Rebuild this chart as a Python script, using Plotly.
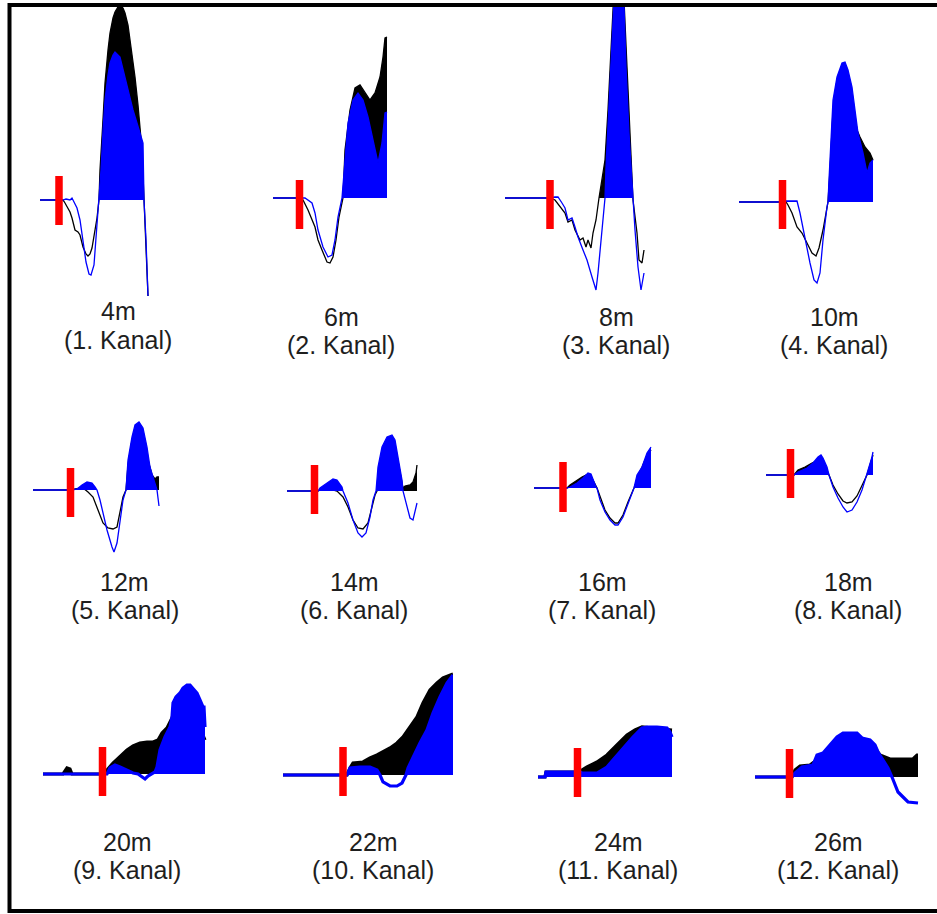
import plotly.graph_objects as go

FIG_W, FIG_H = 937, 914

DIST_LABELS = ["4m", "6m", "8m", "10m", "12m", "14m", "16m", "18m", "20m", "22m", "24m", "26m"]
CHANNEL_LABELS = ["(1. Kanal)", "(2. Kanal)", "(3. Kanal)", "(4. Kanal)", "(5. Kanal)", "(6. Kanal)",
                  "(7. Kanal)", "(8. Kanal)", "(9. Kanal)", "(10. Kanal)", "(11. Kanal)", "(12. Kanal)"]

# ---- traces: t = sample position, a = amplitude (black = measured, blue = model) ----
CH1_BLACK_T = [0, 23, 25, 27, 30, 32, 35, 38, 40, 43, 46, 48, 50, 52, 55, 57, 59, 60, 63, 65, 68, 70, 73, 75, 78, 80,
               83, 85, 88, 90, 93, 95, 98, 100, 102, 103, 104, 106, 108]
CH1_BLACK_A = [0, 0, -3, -7, -12, -18, -30, -32, -35, -47, -54, -56, -54, -48, -32, -18, 0, 30, 80, 117, 150, 167, 182,
               188, 193, 195, 192, 187, 175, 160, 140, 123, 95, 75, 50, 25, 0, -40, -96]
CH1_BLUE_T = [0, 23, 26, 30, 32, 34, 37, 40, 43, 46, 49, 51, 54, 56, 58, 59, 61, 63, 65, 68, 70, 73, 75, 80, 87, 93,
              100, 103, 104, 106, 108]
CH1_BLUE_A = [0, 0, 1, 0, 2, -2, -8, -20, -40, -62, -74, -75, -65, -40, -15, 0, 30, 70, 100, 125, 137, 145, 148, 143,
              113, 90, 67, 57, 0, -40, -96]

CH2_BLACK_T = [0, 27, 30, 35, 42, 45, 49, 54, 57, 60, 63, 66, 70, 72, 77, 82, 87, 92, 97, 102, 107, 110, 112, 114]
CH2_BLACK_A = [0, 0, -2, -12, -29, -42, -52, -64, -65, -59, -42, -19, 0, 48, 88, 110, 113, 105, 98, 105, 121, 141, 160, 161]
CH2_BLUE_T = [0, 27, 32, 39, 42, 45, 50, 55, 59, 62, 65, 69, 72, 75, 80, 85, 90, 95, 100, 105, 109, 112, 114]
CH2_BLUE_A = [0, 0, 0, -5, -15, -32, -49, -59, -57, -42, -19, 0, 41, 75, 98, 105, 98, 81, 58, 35, 55, 85, 86]

CH3_BLACK_T = [0, 45, 50, 55, 60, 63, 67, 70, 75, 78, 81, 83, 86, 88, 91, 94, 97, 100, 103, 106, 109, 114, 119, 122,
               125, 128, 132, 134, 137, 139]
CH3_BLACK_A = [0, 0, -2, -9, -15, -24, -22, -32, -42, -40, -49, -42, -50, -35, -22, 0, 18, 38, 88, 158, 208, 218, 198,
               131, 58, -2, -35, -62, -65, -52]
CH3_BLUE_T = [0, 45, 50, 53, 57, 60, 63, 67, 70, 73, 78, 82, 87, 91, 93, 97, 100, 101, 104, 107, 109, 112, 116, 119,
              121, 124, 128, 130, 133, 136, 139]
CH3_BLUE_A = [0, 0, 1, 1, -5, -10, -22, -20, -29, -39, -52, -62, -79, -92, -75, -35, 0, 31, 98, 165, 198, 218, 218,
              193, 131, 65, 0, -32, -69, -92, -75]

CH4_BLACK_T = [0, 47, 49, 53, 58, 63, 68, 73, 77, 80, 84, 88, 89, 91, 94, 98, 103, 107, 111, 115, 118, 121, 126, 131, 134]
CH4_BLACK_A = [0, 0, -3, -11, -25, -31, -41, -51, -54, -46, -28, -5, 0, 32, 92, 122, 136, 136, 117, 92, 72, 65, 55, 49, 42]
CH4_BLUE_T = [0, 43, 47, 58, 61, 66, 71, 75, 78, 81, 84, 88, 89, 90, 92, 94, 98, 103, 106, 109, 113, 116, 119, 124,
              128, 131, 134]
CH4_BLUE_A = [0, 0, 1, 1, -11, -38, -61, -78, -81, -71, -38, -5, 0, 22, 62, 102, 125, 139, 140, 132, 115, 92, 69, 49,
              29, 39, 42]

CH5_BLACK_T = [0, 39, 42, 50, 55, 60, 65, 70, 75, 80, 84, 87, 90, 93, 95, 99, 103, 107, 111, 115, 119, 122, 124, 126]
CH5_BLACK_A = [0, 0, 1, 2, -2, -7, -20, -33, -38, -39, -37, -23, -7, 0, 25, 50, 62, 64, 50, 30, 15, 11, 13, 13]
CH5_BLUE_T = [0, 39, 44, 49, 54, 59, 62, 64, 67, 70, 74, 79, 81, 84, 87, 90, 93, 95, 99, 102, 106, 110, 114, 117, 120,
              122, 124, 125, 126]
CH5_BLUE_A = [0, 0, 1, 5, 8, 7, 3, 0, -10, -23, -40, -57, -62, -53, -30, -10, 0, 30, 53, 65, 68, 62, 43, 23, 13, 6,
              0, -8, -16]

CH6_BLACK_T = [0, 31, 33, 43, 50, 56, 61, 66, 71, 76, 81, 85, 88, 90, 93, 98, 103, 108, 113, 116, 118, 123, 126, 129, 130]
CH6_BLACK_A = [0, 0, 1, 2, 0, -6, -16, -29, -37, -38, -32, -16, -4, 0, 26, 46, 51, 46, 21, 3, 5, 6, 9, 18, 26]
CH6_BLUE_T = [0, 31, 33, 40, 46, 50, 55, 56, 61, 66, 71, 75, 79, 83, 86, 89, 91, 95, 100, 105, 108, 111, 115, 116, 120,
              123, 126, 128, 130]
CH6_BLUE_A = [0, 0, 3, 8, 12, 11, 4, 0, -12, -29, -42, -46, -42, -26, -9, 0, 24, 44, 54, 56, 51, 34, 11, 0, -16, -27,
              -29, -21, -12]

CH7_BLACK_T = [0, 33, 36, 43, 48, 54, 59, 63, 71, 76, 81, 84, 89, 94, 100, 106, 111, 117]
CH7_BLACK_A = [0, 0, 3, 8, 11, 14, 8, 0, -22, -30, -35, -35, -27, -14, 0, 16, 28, 38]
CH7_BLUE_T = [0, 33, 36, 43, 49, 54, 57, 59, 62, 63, 66, 71, 76, 81, 84, 89, 94, 99, 100, 103, 108, 113, 116, 117]
CH7_BLUE_A = [0, 0, 1, 5, 10, 15, 14, 8, 1, 0, -12, -24, -32, -37, -37, -29, -15, -2, 0, 13, 21, 35, 40, 41]

CH8_BLACK_T = [0, 28, 32, 39, 46, 51, 55, 59, 63, 67, 72, 77, 81, 86, 91, 96, 100, 101, 104, 107]
CH8_BLACK_A = [0, 0, 5, 8, 12, 14, 13, 9, 0, -10, -19, -26, -28, -27, -21, -11, -2, 0, 10, 20]
CH8_BLUE_T = [0, 28, 32, 41, 47, 52, 55, 57, 61, 63, 67, 72, 77, 81, 86, 91, 96, 100, 101, 103, 106, 107]
CH8_BLUE_A = [0, 0, 3, 7, 12, 18, 20, 17, 8, 0, -12, -23, -32, -37, -35, -27, -15, -3, 0, 8, 18, 23]

CH9_BLACK_T = [0, 20, 22, 24, 27, 29, 59, 64, 70, 77, 84, 90, 97, 104, 110, 115, 119, 124, 129, 133, 137, 142, 162]
CH9_BLACK_A = [0, 0, 3, 6, 5, 0, 0, 4, 11, 17, 24, 28, 31, 32, 32, 34, 41, 46, 56, 69, 77, 82, 34]
CH9_BLUE_T = [0, 64, 67, 72, 77, 84, 90, 95, 99, 102, 105, 108, 112, 114, 117, 122, 127, 129, 130, 133, 137, 140, 144,
              147, 151, 154, 157, 160, 161, 162]
CH9_BLUE_A = [0, 0, 6, 9, 7, 4, 1, 0, -3, -5, -2, 0, 2, 7, 24, 37, 47, 57, 71, 77, 81, 86, 89, 89, 85, 81, 74, 67,
              67, 47]

CH10_BLACK_T = [0, 64, 67, 70, 80, 87, 94, 100, 107, 114, 120, 127, 134, 140, 147, 154, 160, 170]
CH10_BLACK_A = [0, 0, 7, 12, 13, 17, 20, 23, 27, 32, 38, 48, 58, 72, 85, 92, 97, 101]
CH10_BLUE_T = [0, 64, 67, 77, 87, 94, 97, 100, 107, 114, 119, 122, 123, 125, 130, 137, 144, 150, 157, 164, 170]
CH10_BLUE_A = [0, 0, 7, 8, 8, 5, 0, -7, -11, -11, -8, -2, 0, 7, 18, 32, 45, 62, 78, 92, 100]

CH11_BLACK_T = [0, 7, 8, 42, 44, 49, 59, 69, 79, 89, 97, 104, 134]
CH11_BLACK_A = [0, 0, 5, 5, 7, 10, 15, 22, 32, 42, 47, 50, 47]
CH11_BLUE_T = [0, 7, 8, 42, 44, 59, 64, 69, 75, 85, 95, 104, 109, 119, 129, 132, 134]
CH11_BLUE_A = [0, 0, 5, 5, 4, 4, 7, 10, 17, 29, 40, 49, 50, 50, 49, 45, 40]

CH12_BLACK_T = [0, 37, 40, 45, 55, 75, 90, 105, 120, 125, 135, 145, 158, 162, 163]
CH12_BLACK_A = [0, 0, 7, 11, 12, 27, 37, 37, 29, 22, 18, 18, 18, 22, 22]
CH12_BLUE_T = [0, 37, 40, 47, 58, 62, 68, 75, 82, 88, 102, 107, 115, 120, 123, 128, 133, 137, 140, 143, 148, 153, 163]
CH12_BLUE_A = [0, 0, 4, 10, 12, 22, 24, 32, 40, 44, 44, 39, 37, 32, 25, 17, 9, 0, -8, -15, -20, -25, -26]

# onset picks (red bars): time and vertical extent
ONSET_T = [19, 26.5, 45, 43.5, 37.5, 27.5, 29, 24.5, 59.5, 60, 39.5, 34.5]
ONSET_HI = [24, 18, 18, 22, 22, 26, 26, 26, 27, 28, 29, 28]
ONSET_LO = [-25, -31, -31, -27, -27, -23, -24, -23, -22, -21, -20, -21]

BLACK_T = [CH1_BLACK_T, CH2_BLACK_T, CH3_BLACK_T, CH4_BLACK_T, CH5_BLACK_T, CH6_BLACK_T,
           CH7_BLACK_T, CH8_BLACK_T, CH9_BLACK_T, CH10_BLACK_T, CH11_BLACK_T, CH12_BLACK_T]
BLACK_A = [CH1_BLACK_A, CH2_BLACK_A, CH3_BLACK_A, CH4_BLACK_A, CH5_BLACK_A, CH6_BLACK_A,
           CH7_BLACK_A, CH8_BLACK_A, CH9_BLACK_A, CH10_BLACK_A, CH11_BLACK_A, CH12_BLACK_A]
BLUE_T = [CH1_BLUE_T, CH2_BLUE_T, CH3_BLUE_T, CH4_BLUE_T, CH5_BLUE_T, CH6_BLUE_T,
          CH7_BLUE_T, CH8_BLUE_T, CH9_BLUE_T, CH10_BLUE_T, CH11_BLUE_T, CH12_BLUE_T]
BLUE_A = [CH1_BLUE_A, CH2_BLUE_A, CH3_BLUE_A, CH4_BLUE_A, CH5_BLUE_A, CH6_BLUE_A,
          CH7_BLUE_A, CH8_BLUE_A, CH9_BLUE_A, CH10_BLUE_A, CH11_BLUE_A, CH12_BLUE_A]

# ---- layout geometry (pixels) ----
PANEL_X0 = [40, 273, 505, 739, 33, 287, 534, 766, 43, 283, 538, 755]
PANEL_BASE = [200, 198, 198, 202, 490, 491, 488, 475, 774, 775, 777, 777]
ROW_TOP = [5, 385, 640]
ROW_BOT = [305, 565, 830]
PANEL_W = 170
LABEL_X = [118, 341, 616, 834, 125, 354, 602, 848, 127, 373, 618, 838]
LABEL_Y1 = [311, 317, 317, 317, 582, 582, 582, 582, 842, 842, 842, 842]
LABEL_Y2 = [340, 345, 345, 345, 610, 610, 610, 610, 870, 870, 870, 870]

BLUE = "#0000FF"
BLACK = "#000000"
RED = "#FF0000"


def positive_part(t, a):
    xs, ys = [], []
    for i in range(len(t)):
        if i > 0:
            a0, a1 = a[i - 1], a[i]
            if (a0 < 0 < a1) or (a0 > 0 > a1):
                tc = t[i - 1] + (t[i] - t[i - 1]) * (-a0) / (a1 - a0)
                xs.append(tc)
                ys.append(0)
        xs.append(t[i])
        ys.append(max(a[i], 0))
    return xs, ys


fig = go.Figure()
layout_axes = {}
for k in range(12):
    row = k // 4
    n = k + 1
    xa = "x" if n == 1 else f"x{n}"
    ya = "y" if n == 1 else f"y{n}"
    lw = 3.2 if row == 2 else 1.3
    # black (measured)
    px, py = positive_part(BLACK_T[k], BLACK_A[k])
    fig.add_trace(go.Scatter(x=px, y=py, mode="lines", fill="tozeroy", fillcolor=BLACK,
                             line=dict(width=0, color=BLACK), xaxis=xa, yaxis=ya, hoverinfo="skip"))
    fig.add_trace(go.Scatter(x=BLACK_T[k], y=BLACK_A[k], mode="lines",
                             line=dict(width=lw, color=BLACK), xaxis=xa, yaxis=ya, hoverinfo="skip"))
    # blue (model)
    px, py = positive_part(BLUE_T[k], BLUE_A[k])
    fig.add_trace(go.Scatter(x=px, y=py, mode="lines", fill="tozeroy", fillcolor=BLUE,
                             line=dict(width=0, color=BLUE), xaxis=xa, yaxis=ya, hoverinfo="skip"))
    fig.add_trace(go.Scatter(x=BLUE_T[k], y=BLUE_A[k], mode="lines",
                             line=dict(width=lw, color=BLUE), xaxis=xa, yaxis=ya, hoverinfo="skip"))
    # onset pick
    fig.add_trace(go.Scatter(x=[ONSET_T[k], ONSET_T[k]], y=[ONSET_LO[k], ONSET_HI[k]], mode="lines",
                             line=dict(width=7.5, color=RED), xaxis=xa, yaxis=ya, hoverinfo="skip"))

    x0 = PANEL_X0[k]
    yb = PANEL_BASE[k]
    top, bot = ROW_TOP[row], ROW_BOT[row]
    xkey = "xaxis" if n == 1 else f"xaxis{n}"
    ykey = "yaxis" if n == 1 else f"yaxis{n}"
    layout_axes[xkey] = dict(domain=[x0 / FIG_W, (x0 + PANEL_W) / FIG_W], range=[0, PANEL_W],
                             visible=False, fixedrange=True, anchor=ya)
    layout_axes[ykey] = dict(domain=[1 - bot / FIG_H, 1 - top / FIG_H], range=[-(bot - yb), yb - top],
                             visible=False, fixedrange=True, anchor=xa)

annotations = []
for k in range(12):
    for txt, yy in ((DIST_LABELS[k], LABEL_Y1[k]), (CHANNEL_LABELS[k], LABEL_Y2[k])):
        annotations.append(dict(text=txt, x=LABEL_X[k] / FIG_W, y=1 - yy / FIG_H, xref="paper", yref="paper",
                                xanchor="center", yanchor="middle", showarrow=False,
                                font=dict(family="Liberation Sans, Arial, sans-serif", size=25, color="#1e1e1e")))

fig.update_layout(
    width=FIG_W, height=FIG_H, autosize=False,
    margin=dict(l=0, r=0, t=0, b=0, pad=0),
    paper_bgcolor="white", plot_bgcolor="rgba(0,0,0,0)",
    showlegend=False, hovermode=False,
    annotations=annotations,
    shapes=[dict(type="rect", xref="paper", yref="paper", x0=9.5 / FIG_W, x1=1.02,
                 y0=1 - 911 / FIG_H, y1=1 - 5 / FIG_H, line=dict(color="black", width=4), layer="above")],
    **layout_axes,
)

fig.write_html("out.html", config={"displayModeBar": False, "staticPlot": True})
